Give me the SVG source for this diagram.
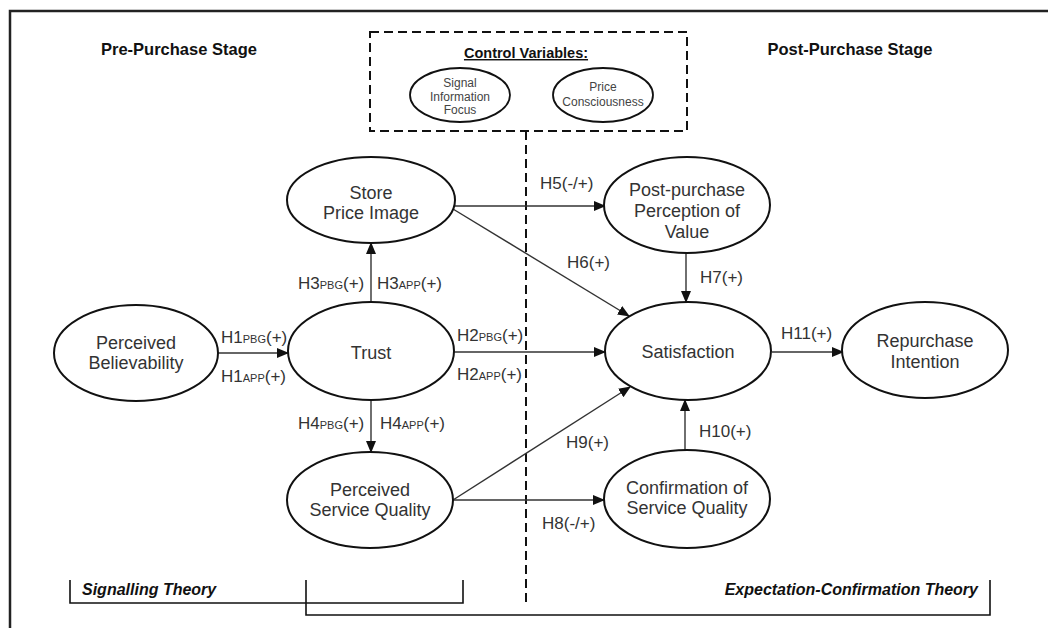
<svg xmlns="http://www.w3.org/2000/svg" width="1048" height="628" viewBox="0 0 1048 628">
<defs>
<style>
.node{fill:#fff;stroke:#111;stroke-width:2}
.small{fill:#fff;stroke:#111;stroke-width:1.8}
.t{font-family:"Liberation Sans",Arial,sans-serif;font-size:18px;fill:#333;text-anchor:middle}
.ts{font-family:"Liberation Sans",Arial,sans-serif;font-size:12px;fill:#444;text-anchor:middle}
.lab{font-family:"Liberation Sans",Arial,sans-serif;font-size:17px;fill:#333}
.sub{font-size:11px}
.hdr{font-family:"Liberation Sans",Arial,sans-serif;font-size:16.5px;font-weight:bold;fill:#111}
.th{font-family:"Liberation Sans",Arial,sans-serif;font-size:16px;font-weight:bold;font-style:italic;fill:#111}
.edge{stroke:#333;stroke-width:1.4;fill:none}
.dash{stroke:#111;stroke-width:2;fill:none;stroke-dasharray:9 5}
.br{stroke:#111;stroke-width:1.6;fill:none}
</style>
<marker id="ah" markerWidth="12" markerHeight="12" refX="11" refY="6" orient="auto" markerUnits="userSpaceOnUse">
<path d="M0,1 L12,6 L0,11 Z" fill="#111"/>
</marker>
</defs>
<rect width="1048" height="628" fill="#fff"/>
<path d="M10,628 V11 H1048" stroke="#222" stroke-width="2.5" fill="none"/>

<text class="hdr" x="101" y="55">Pre-Purchase Stage</text>
<text class="hdr" x="850" y="55" text-anchor="middle">Post-Purchase Stage</text>

<g id="control-variables">
<rect class="dash" x="370" y="32" width="317" height="99"/>
<text class="hdr" x="526" y="58" text-anchor="middle" style="font-size:14.5px" text-decoration="underline">Control Variables:</text>
<ellipse class="small" cx="460" cy="95" rx="50" ry="27"/>
<text class="ts" x="460" y="87">Signal</text>
<text class="ts" x="460" y="101">Information</text>
<text class="ts" x="460" y="114">Focus</text>
<ellipse class="small" cx="603" cy="95" rx="50" ry="27"/>
<text class="ts" x="603" y="91">Price</text>
<text class="ts" x="603" y="106">Consciousness</text>
</g>

<line class="dash" x1="526" y1="131" x2="526" y2="602"/>

<g id="connectors">
<line class="edge" x1="218" y1="353" x2="288" y2="353" marker-end="url(#ah)"/>
<line class="edge" x1="371" y1="302" x2="371" y2="243" marker-end="url(#ah)"/>
<line class="edge" x1="371" y1="400" x2="371" y2="452" marker-end="url(#ah)"/>
<line class="edge" x1="454" y1="352" x2="605" y2="352" marker-end="url(#ah)"/>
<line class="edge" x1="455" y1="206" x2="605" y2="206" marker-end="url(#ah)"/>
<line class="edge" x1="453" y1="209" x2="629" y2="316" marker-end="url(#ah)"/>
<line class="edge" x1="686" y1="253" x2="686" y2="302" marker-end="url(#ah)"/>
<line class="edge" x1="772" y1="352" x2="843" y2="352" marker-end="url(#ah)"/>
<line class="edge" x1="453" y1="500" x2="630" y2="387" marker-end="url(#ah)"/>
<line class="edge" x1="453" y1="500" x2="604" y2="500" marker-end="url(#ah)"/>
<line class="edge" x1="685" y1="450" x2="685" y2="400" marker-end="url(#ah)"/>

<text class="lab" x="221" y="343">H1<tspan class="sub">PBG</tspan>(+)</text>
<text class="lab" x="221" y="382">H1<tspan class="sub">APP</tspan>(+)</text>
<text class="lab" x="298" y="289">H3<tspan class="sub">PBG</tspan>(+)</text>
<text class="lab" x="377" y="289">H3<tspan class="sub">APP</tspan>(+)</text>
<text class="lab" x="457" y="341">H2<tspan class="sub">PBG</tspan>(+)</text>
<text class="lab" x="457" y="380">H2<tspan class="sub">APP</tspan>(+)</text>
<text class="lab" x="298" y="429">H4<tspan class="sub">PBG</tspan>(+)</text>
<text class="lab" x="380" y="429">H4<tspan class="sub">APP</tspan>(+)</text>
<text class="lab" x="540" y="189">H5(-/+)</text>
<text class="lab" x="567" y="268">H6(+)</text>
<text class="lab" x="700" y="283">H7(+)</text>
<text class="lab" x="566" y="448">H9(+)</text>
<text class="lab" x="542" y="529">H8(-/+)</text>
<text class="lab" x="781" y="339">H11(+)</text>
<text class="lab" x="699" y="437">H10(+)</text>
</g>

<g id="perceived-believability">
<ellipse class="node" cx="136" cy="353" rx="82" ry="48"/>
<text class="t" x="136" y="349">Perceived</text>
<text class="t" x="136" y="369">Believability</text>
</g>
<g id="trust">
<ellipse class="node" cx="371" cy="351" rx="83" ry="49"/>
<text class="t" x="371" y="359">Trust</text>
</g>
<g id="store-price-image">
<ellipse class="node" cx="371" cy="200" rx="84" ry="43"/>
<text class="t" x="371" y="199">Store</text>
<text class="t" x="371" y="219">Price Image</text>
</g>
<g id="perceived-service-quality">
<ellipse class="node" cx="370" cy="500" rx="83" ry="48"/>
<text class="t" x="370" y="496">Perceived</text>
<text class="t" x="370" y="516">Service Quality</text>
</g>
<g id="post-purchase-perception">
<ellipse class="node" cx="687" cy="205" rx="83" ry="48"/>
<text class="t" x="687" y="196">Post-purchase</text>
<text class="t" x="687" y="217">Perception of</text>
<text class="t" x="687" y="238">Value</text>
</g>
<g id="satisfaction">
<ellipse class="node" cx="688" cy="351" rx="83" ry="49"/>
<text class="t" x="688" y="358">Satisfaction</text>
</g>
<g id="repurchase-intention">
<ellipse class="node" cx="925" cy="350" rx="83" ry="48"/>
<text class="t" x="925" y="347">Repurchase</text>
<text class="t" x="925" y="368">Intention</text>
</g>
<g id="confirmation-service-quality">
<ellipse class="node" cx="687" cy="499" rx="83" ry="49"/>
<text class="t" x="687" y="494">Confirmation of</text>
<text class="t" x="687" y="514">Service Quality</text>
</g>

<g id="theories">
<text class="th" x="82" y="595">Signalling Theory</text>
<text class="th" x="978" y="595" text-anchor="end">Expectation-Confirmation Theory</text>
<path class="br" d="M70,580 V603 H463 V580"/>
<path class="br" d="M306,580 V615 H990 V580"/>
</g>
</svg>
